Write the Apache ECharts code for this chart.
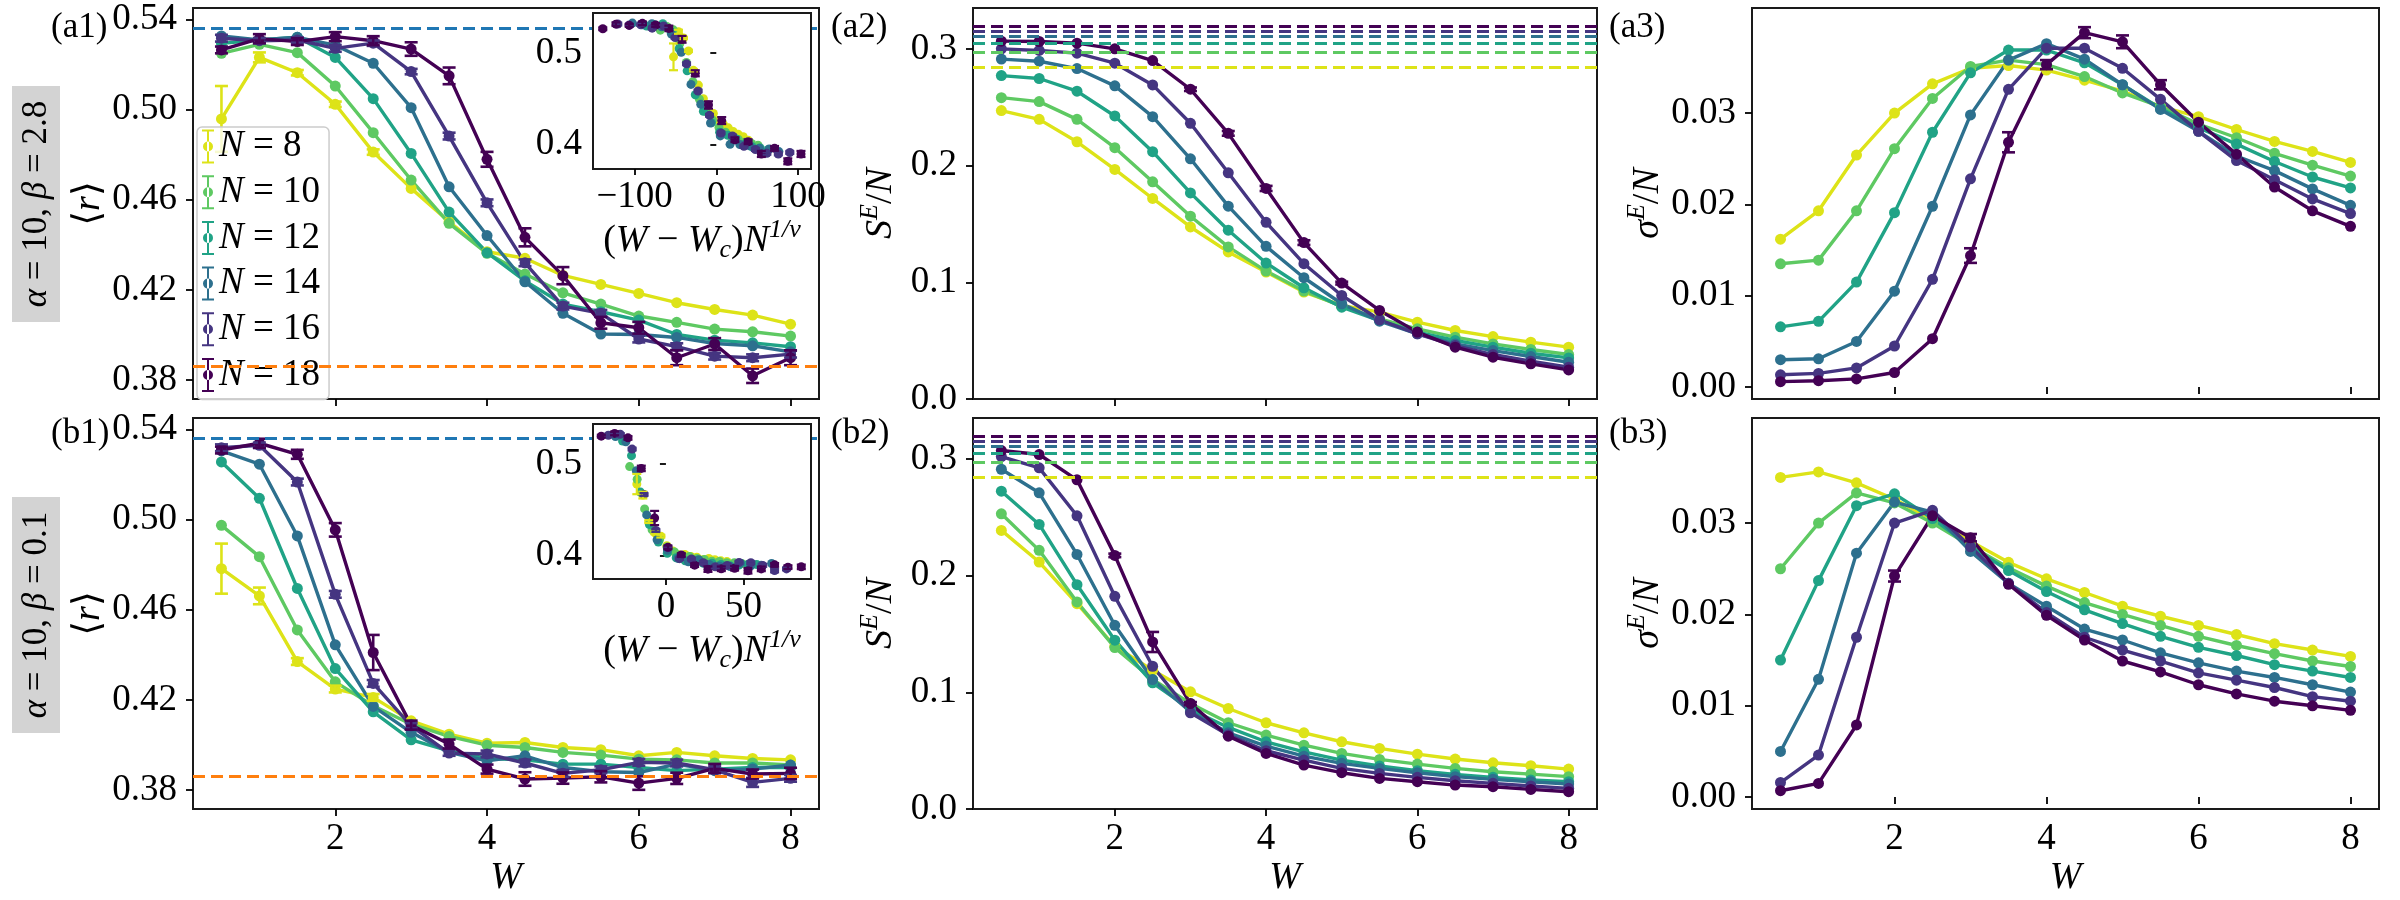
<!DOCTYPE html>
<html>
<head>
<meta charset="utf-8">
<script src="https://cdn.jsdelivr.net/npm/echarts@6/dist/echarts.min.js"></script>
<style>
  html, body { margin: 0; padding: 0; background: #fff; }
  #chart { width: 2400px; height: 900px; }
</style>
</head>
<body>
<div id="chart"></div>
<script>
// disorder strengths and system sizes
const W = [0.5, 1, 1.5, 2, 2.5, 3, 3.5, 4, 4.5, 5, 5.5, 6, 6.5, 7, 7.5, 8]
const Ns = [8, 10, 12, 14, 16, 18]
const colors = ['#dde318', '#5ec962', '#20a386', '#2d708e', '#453581', '#440154']

// <r>, alpha=10 beta=2.8 (rows: N=8..18)
const rA = [
  [0.4958, 0.5231, 0.5163, 0.5023, 0.4811, 0.4650, 0.4502, 0.4369, 0.4340, 0.4264, 0.4224, 0.4184, 0.4143, 0.4113, 0.4088, 0.4048],
  [0.5249, 0.5289, 0.5252, 0.5104, 0.4897, 0.4687, 0.4495, 0.4362, 0.4270, 0.4187, 0.4137, 0.4084, 0.4056, 0.4026, 0.4014, 0.3995],
  [0.5293, 0.5308, 0.5320, 0.5231, 0.5048, 0.4805, 0.4545, 0.4365, 0.4240, 0.4137, 0.4103, 0.4066, 0.4002, 0.3977, 0.3965, 0.3948],
  [0.5326, 0.5308, 0.5320, 0.5285, 0.5205, 0.5008, 0.4657, 0.4441, 0.4236, 0.4096, 0.4004, 0.4002, 0.3989, 0.3962, 0.3952, 0.3925],
  [0.5316, 0.5305, 0.5308, 0.5271, 0.5294, 0.5168, 0.4882, 0.4586, 0.4320, 0.4128, 0.4096, 0.3982, 0.3948, 0.3906, 0.3899, 0.3915],
  [0.5264, 0.5314, 0.5301, 0.5323, 0.5305, 0.5268, 0.5149, 0.4779, 0.4433, 0.4263, 0.4054, 0.4032, 0.3899, 0.3960, 0.3819, 0.3899],
]
const rAErr = [
  [0.0146, 0.0022, 0.0012, 0.0012, 0.0012, 0, 0, 0, 0, 0, 0, 0, 0, 0, 0, 0],
  [0, 0, 0, 0, 0, 0, 0, 0, 0, 0, 0, 0, 0, 0, 0, 0],
  [0, 0, 0, 0, 0, 0, 0, 0, 0, 0, 0, 0, 0, 0, 0, 0],
  [0, 0, 0, 0, 0, 0, 0, 0, 0, 0, 0, 0, 0, 0, 0, 0],
  [0.0015, 0.0012, 0.0012, 0.0015, 0.0012, 0.0012, 0.0015, 0.0015, 0.0015, 0.0015, 0.0015, 0.0015, 0.0015, 0.0015, 0.0015, 0.0015],
  [0.0015, 0.0020, 0.0015, 0.0020, 0.0020, 0.0030, 0.0037, 0.0033, 0.0040, 0.0038, 0.0026, 0.0026, 0.0033, 0.0026, 0.0032, 0.0033],
]

// <r>, alpha=10 beta=0.1
const rB = [
  [0.4782, 0.4661, 0.4370, 0.4248, 0.4211, 0.4107, 0.4048, 0.4008, 0.4011, 0.3989, 0.3979, 0.3952, 0.3967, 0.3952, 0.3940, 0.3934],
  [0.4974, 0.4835, 0.4510, 0.4280, 0.4174, 0.4092, 0.4038, 0.3999, 0.3989, 0.3967, 0.3955, 0.3937, 0.3934, 0.3920, 0.3920, 0.3911],
  [0.5255, 0.5094, 0.4694, 0.4339, 0.4147, 0.4023, 0.3974, 0.3940, 0.3934, 0.3915, 0.3915, 0.3900, 0.3886, 0.3893, 0.3900, 0.3900],
  [0.5304, 0.5245, 0.4927, 0.4444, 0.4171, 0.4056, 0.3967, 0.3930, 0.3952, 0.3900, 0.3881, 0.3878, 0.3915, 0.3886, 0.3893, 0.3911],
  [0.5318, 0.5329, 0.5166, 0.4668, 0.4273, 0.4085, 0.3964, 0.3960, 0.3920, 0.3874, 0.3890, 0.3923, 0.3920, 0.3890, 0.3834, 0.3852],
  [0.5308, 0.5338, 0.5289, 0.4954, 0.4410, 0.4088, 0.4004, 0.3893, 0.3849, 0.3853, 0.3859, 0.3831, 0.3852, 0.3896, 0.3871, 0.3874],
]
const rBErr = [
  [0.0111, 0.0037, 0.0015, 0.0015, 0.0015, 0, 0, 0, 0, 0, 0, 0, 0, 0, 0, 0],
  [0, 0, 0, 0, 0, 0, 0, 0, 0, 0, 0, 0, 0, 0, 0, 0],
  [0, 0, 0, 0, 0, 0, 0, 0, 0, 0, 0, 0, 0, 0, 0, 0],
  [0, 0, 0, 0, 0, 0, 0, 0, 0, 0, 0, 0, 0, 0, 0, 0],
  [0.0015, 0.0012, 0.0015, 0.0015, 0.0015, 0.0012, 0.0012, 0.0015, 0.0015, 0.0015, 0.0015, 0.0015, 0.0015, 0.0015, 0.0020, 0.0015],
  [0.0015, 0.0020, 0.0020, 0.0030, 0.0078, 0.0020, 0.0020, 0.0020, 0.0030, 0.0025, 0.0025, 0.0030, 0.0025, 0.0020, 0.0020, 0.0025],
]

// S^E/N
const sA = [
  [0.2471, 0.2396, 0.2204, 0.1967, 0.1718, 0.1474, 0.1260, 0.1088, 0.0916, 0.0802, 0.0744, 0.0658, 0.0587, 0.0535, 0.0487, 0.0444],
  [0.2582, 0.2548, 0.2396, 0.2153, 0.1861, 0.1566, 0.1303, 0.1096, 0.0925, 0.0793, 0.0687, 0.0601, 0.0530, 0.0472, 0.0424, 0.0381],
  [0.2771, 0.2746, 0.2637, 0.2425, 0.2119, 0.1766, 0.1446, 0.1165, 0.0953, 0.0787, 0.0672, 0.0573, 0.0501, 0.0444, 0.0392, 0.0352],
  [0.2912, 0.2894, 0.2831, 0.2683, 0.2419, 0.2058, 0.1652, 0.1308, 0.1039, 0.0816, 0.0667, 0.0558, 0.0472, 0.0415, 0.0364, 0.0315],
  [0.3000, 0.2986, 0.2963, 0.2877, 0.2691, 0.2362, 0.1938, 0.1514, 0.1159, 0.0887, 0.0679, 0.0558, 0.0458, 0.0381, 0.0324, 0.0272],
  [0.3066, 0.3063, 0.3049, 0.3000, 0.2900, 0.2654, 0.2276, 0.1804, 0.1340, 0.0993, 0.0759, 0.0573, 0.0444, 0.0358, 0.0301, 0.0249],
]
const sAErr18 = [0, 0, 0, 0, 0, 0.0015, 0.0020, 0.0022, 0.0020, 0.0012, 0, 0, 0, 0, 0, 0]
const sB = [
  [0.2387, 0.2116, 0.1759, 0.1394, 0.1189, 0.1004, 0.0861, 0.0739, 0.0653, 0.0576, 0.0519, 0.0470, 0.0428, 0.0396, 0.0371, 0.0342],
  [0.2529, 0.2216, 0.1774, 0.1383, 0.1109, 0.0904, 0.0739, 0.0633, 0.0547, 0.0476, 0.0425, 0.0385, 0.0348, 0.0319, 0.0299, 0.0277],
  [0.2723, 0.2438, 0.1922, 0.1446, 0.1081, 0.0853, 0.0699, 0.0576, 0.0490, 0.0419, 0.0368, 0.0328, 0.0297, 0.0271, 0.0248, 0.0234],
  [0.2911, 0.2709, 0.2181, 0.1574, 0.1109, 0.0833, 0.0653, 0.0539, 0.0453, 0.0391, 0.0348, 0.0311, 0.0277, 0.0254, 0.0234, 0.0214],
  [0.3020, 0.2923, 0.2512, 0.1822, 0.1223, 0.0824, 0.0633, 0.0499, 0.0419, 0.0348, 0.0305, 0.0271, 0.0242, 0.0220, 0.0197, 0.0177],
  [0.3071, 0.3037, 0.2820, 0.2173, 0.1431, 0.0904, 0.0624, 0.0476, 0.0376, 0.0311, 0.0262, 0.0234, 0.0205, 0.0191, 0.0168, 0.0148],
]
const sBErr18 = [0, 0, 0, 0.0015, 0.0086, 0.0012, 0, 0, 0, 0, 0, 0, 0, 0, 0, 0]
// Page values drawn as dashed lines (N=8..18)
const pageS = [0.2840, 0.2967, 0.3050, 0.3110, 0.3155, 0.3192]

// sigma^E/N
const gA = [
  [0.0162, 0.0193, 0.0254, 0.0300, 0.0332, 0.0349, 0.0352, 0.0347, 0.0336, 0.0324, 0.0307, 0.0296, 0.0282, 0.0269, 0.0258, 0.0246],
  [0.0135, 0.0139, 0.0193, 0.0261, 0.0316, 0.0351, 0.0358, 0.0353, 0.0340, 0.0322, 0.0307, 0.0288, 0.0273, 0.0256, 0.0243, 0.0231],
  [0.0066, 0.0072, 0.0115, 0.0191, 0.0279, 0.0344, 0.0369, 0.0369, 0.0355, 0.0331, 0.0305, 0.0284, 0.0266, 0.0247, 0.0230, 0.0218],
  [0.0030, 0.0031, 0.0050, 0.0105, 0.0198, 0.0298, 0.0358, 0.0376, 0.0359, 0.0331, 0.0304, 0.0280, 0.0253, 0.0237, 0.0217, 0.0199],
  [0.00135, 0.0015, 0.0021, 0.0045, 0.0118, 0.0228, 0.0326, 0.0371, 0.0371, 0.0349, 0.0315, 0.0280, 0.0248, 0.0227, 0.0206, 0.0190],
  [0.0006, 0.0007, 0.0009, 0.0016, 0.0053, 0.0144, 0.0268, 0.0353, 0.0388, 0.0378, 0.0331, 0.0290, 0.0255, 0.0219, 0.0193, 0.0176],
]
const gAErr18 = [0, 0, 0, 0, 0, 0.0008, 0.0011, 0.0005, 0.0006, 0.0007, 0.0005, 0, 0, 0, 0, 0]
const gB = [
  [0.0350, 0.0356, 0.0344, 0.0326, 0.0304, 0.0280, 0.0257, 0.0239, 0.0224, 0.0209, 0.0198, 0.0188, 0.0178, 0.0168, 0.0161, 0.0154],
  [0.0250, 0.0300, 0.0333, 0.0322, 0.0300, 0.0275, 0.0251, 0.0231, 0.0213, 0.0200, 0.0188, 0.0176, 0.0166, 0.0157, 0.0149, 0.0143],
  [0.0150, 0.0237, 0.0319, 0.0332, 0.0305, 0.0274, 0.0248, 0.0225, 0.0205, 0.0190, 0.0176, 0.0164, 0.0155, 0.0145, 0.0138, 0.0131],
  [0.0050, 0.0129, 0.0267, 0.0323, 0.0312, 0.0269, 0.0234, 0.0209, 0.0184, 0.0172, 0.0158, 0.0147, 0.0138, 0.0131, 0.0123, 0.0115],
  [0.0016, 0.0046, 0.0175, 0.0300, 0.0314, 0.0274, 0.0234, 0.0202, 0.0175, 0.0161, 0.0149, 0.0136, 0.0128, 0.0120, 0.0110, 0.0105],
  [0.0007, 0.0015, 0.0079, 0.0242, 0.0308, 0.0284, 0.0233, 0.0199, 0.0172, 0.0149, 0.0137, 0.0123, 0.0113, 0.0105, 0.0100, 0.0095],
]
const gBErr18 = [0, 0, 0, 0.0006, 0, 0.0004, 0, 0, 0, 0, 0, 0, 0, 0, 0, 0]

// reference <r> values (GOE and Poisson)
const rGOE = 0.536
const rPoisson = 0.386

// scaling collapse parameters: x = (W - Wc) * N^(1/nu)
const WcA = 4.795, invNuA = 1.203
const WcB = 2.924, invNuB = 0.984

const wTicks = [2, 4, 6, 8]
const rTicks = [0.38, 0.42, 0.46, 0.50, 0.54]
const sTicks = [0, 0.1, 0.2, 0.3]
const gTicks = [0, 0.01, 0.02, 0.03]
const insetYTicks = [0.4, 0.5]
const insetAXTicks = [-100, 0, 100]
const insetBXTicks = [0, 50]

const FONT = "'Liberation Serif', 'DejaVu Serif', serif"
const BLACK = '#000'
const TICK_FS = 37
const NAME_FS = 38

const chart = echarts.init(document.getElementById('chart'), null, { renderer: 'canvas' })

const rich = {
  i: { fontFamily: FONT, fontSize: NAME_FS, fontStyle: 'italic', color: BLACK, verticalAlign: 'middle' },
  n: { fontFamily: FONT, fontSize: NAME_FS, color: BLACK, verticalAlign: 'middle' },
  sup: { fontFamily: FONT, fontSize: 26, fontStyle: 'italic', color: BLACK, verticalAlign: 'middle', padding: [0, 0, 22, 0] },
  sub: { fontFamily: FONT, fontSize: 26, fontStyle: 'italic', color: BLACK, verticalAlign: 'middle', padding: [18, 0, 0, 0] },
}

const fmt = (dec) => (v) => (v < 0 ? '\u2212' : '') + Math.abs(v).toFixed(dec)

const gridBoxes = [
  { left: 193, top: 8, width: 626, height: 391 },
  { left: 973, top: 8, width: 624, height: 391 },
  { left: 1752, top: 8, width: 627, height: 391 },
  { left: 193, top: 418, width: 626, height: 391 },
  { left: 973, top: 418, width: 624, height: 391 },
  { left: 1752, top: 418, width: 627, height: 391 },
]
const grid = gridBoxes.map((g) => ({
  ...g, show: true, borderColor: '#1a1a1a', borderWidth: 2, backgroundColor: 'transparent',
}))
grid.push({ left: 593, top: 13, width: 218, height: 156, show: true, z: 10, borderColor: '#1a1a1a', borderWidth: 2, backgroundColor: '#fff' })
grid.push({ left: 593, top: 424, width: 218, height: 155, show: true, z: 10, borderColor: '#1a1a1a', borderWidth: 2, backgroundColor: '#fff' })

function valueAxis(opts) {
  return {
    type: 'value',
    gridIndex: opts.grid,
    min: opts.min,
    max: opts.max,
    z: opts.z || 0,
    axisLine: { show: false },
    splitLine: { show: false },
    axisTick: { show: true, inside: false, length: opts.tickLen || 7, customValues: opts.ticks, lineStyle: { color: BLACK, width: 1.8 } },
    axisLabel: {
      show: opts.labels !== false,
      customValues: opts.ticks,
      formatter: fmt(opts.dec),
      fontFamily: FONT,
      fontSize: opts.fontSize || TICK_FS,
      color: BLACK,
      margin: opts.margin || 12,
    },
    name: opts.name || '',
    nameLocation: 'middle',
    nameGap: opts.nameGap || 40,
    nameRotate: opts.nameRotate,
    nameTextStyle: { fontFamily: FONT, fontSize: NAME_FS, color: BLACK, rich },
  }
}

const xAxis = []
const yAxis = []
const yCols = [
  { min: 0.3716, max: 0.545, ticks: rTicks, dec: 2, name: '\u27E8{i|r}\u27E9', nameGap: 84 },
  { min: 0, max: 0.335, ticks: sTicks, dec: 1, name: '{i|S}{sup|E}{n|/}{i|N}', nameGap: 68 },
  { min: -0.0013, max: 0.0415, ticks: gTicks, dec: 2, name: '{i|\u03C3}{sup|E}{n|/}{i|N}', nameGap: 80 },
]
for (let g = 0; g < 6; g++) {
  const bottom = g >= 3
  xAxis.push(valueAxis({
    grid: g, min: 0.125, max: 8.375, ticks: wTicks, dec: 0, labels: bottom,
    name: bottom ? '{i|W}' : '', nameGap: 46,
  }))
  const c = yCols[g % 3]
  yAxis.push(valueAxis({
    grid: g, min: c.min, max: c.max, ticks: c.ticks, dec: c.dec, margin: 16,
    name: c.name, nameGap: c.nameGap, nameRotate: 90,
  }))
}
// insets
const insetName = '({i|W} \u2212 {i|W}{sub|c}){i|N}{sup|1/\u03BD}'
xAxis.push(valueAxis({ grid: 6, min: -151, max: 116, ticks: insetAXTicks, dec: 0, z: 11, tickLen: 6, margin: 10, name: insetName, nameGap: 48 }))
yAxis.push(valueAxis({ grid: 6, min: 0.3735, max: 0.5436, ticks: insetYTicks, dec: 1, z: 11, tickLen: 6, margin: 11 }))
xAxis.push(valueAxis({ grid: 7, min: -47, max: 93.5, ticks: insetBXTicks, dec: 0, z: 11, tickLen: 6, margin: 10, name: insetName, nameGap: 48 }))
yAxis.push(valueAxis({ grid: 7, min: 0.3741, max: 0.5441, ticks: insetYTicks, dec: 1, z: 11, tickLen: 6, margin: 11 }))

function errSeries(axis, pts, color, cap, lw, z) {
  return {
    type: 'custom',
    name: 'err',
    xAxisIndex: axis,
    yAxisIndex: axis,
    z: z,
    silent: true,
    clip: true,
    renderItem: (params, api) => {
      const x = api.value(0), y = api.value(1), e = api.value(2)
      const top = api.coord([x, y + e])
      const bot = api.coord([x, y - e])
      const style = { stroke: color, lineWidth: lw }
      return {
        type: 'group',
        children: [
          { type: 'line', shape: { x1: top[0], y1: top[1], x2: bot[0], y2: bot[1] }, style },
          { type: 'line', shape: { x1: top[0] - cap, y1: top[1], x2: top[0] + cap, y2: top[1] }, style },
          { type: 'line', shape: { x1: bot[0] - cap, y1: bot[1], x2: bot[0] + cap, y2: bot[1] }, style },
        ],
      }
    },
    encode: { x: 0, y: 1 },
    data: pts.filter((p) => p[2] > 0),
  }
}

const series = []
const panels = [
  { axis: 0, vals: rA, errs: rAErr },
  { axis: 1, vals: sA, errs: { 5: sAErr18 }, page: true },
  { axis: 2, vals: gA, errs: { 5: gAErr18 } },
  { axis: 3, vals: rB, errs: rBErr },
  { axis: 4, vals: sB, errs: { 5: sBErr18 }, page: true },
  { axis: 5, vals: gB, errs: { 5: gBErr18 } },
]
const dashed = [12, 6]

panels.forEach((p) => {
  p.vals.forEach((row, k) => {
    const s = {
      type: 'line',
      name: 'N = ' + Ns[k],
      xAxisIndex: p.axis,
      yAxisIndex: p.axis,
      data: W.map((w, i) => [w, row[i]]),
      symbol: 'circle',
      symbolSize: 11,
      showSymbol: true,
      z: 2,
      lineStyle: { color: colors[k], width: 3.4 },
      itemStyle: { color: colors[k] },
      emphasis: { disabled: true },
    }
    if (p.page) {
      s.markLine = {
        silent: true, symbol: 'none', precision: 5, label: { show: false },
        lineStyle: { color: colors[k], type: dashed, width: 3 },
        data: [{ yAxis: pageS[k] }],
      }
    }
    if (k === 0 && (p.axis === 0 || p.axis === 3)) {
      s.markLine = {
        silent: true, symbol: 'none', precision: 5, label: { show: false },
        data: [
          { yAxis: rGOE, lineStyle: { color: '#1f77b4', type: dashed, width: 3 } },
          { yAxis: rPoisson, lineStyle: { color: '#ff7f0e', type: dashed, width: 3 } },
        ],
      }
    }
    series.push(s)
    const e = p.errs[k]
    if (e) {
      series.push(errSeries(p.axis, W.map((w, i) => [w, row[i], e[i]]), colors[k], 6.5, 2.6, 3))
    }
  })
})

// scaling-collapse insets
const insets = [
  { axis: 6, vals: rA, errs: rAErr, Wc: WcA, inv: invNuA },
  { axis: 7, vals: rB, errs: rBErr, Wc: WcB, inv: invNuB },
]
insets.forEach((p) => {
  p.vals.forEach((row, k) => {
    const scale = Math.pow(Ns[k], p.inv)
    const xs = W.map((w) => (w - p.Wc) * scale)
    series.push({
      type: 'scatter',
      name: 'inset',
      xAxisIndex: p.axis,
      yAxisIndex: p.axis,
      z: 12,
      symbol: 'circle',
      symbolSize: 9,
      itemStyle: { color: colors[k], opacity: 1 },
      emphasis: { disabled: true },
      data: xs.map((x, i) => [x, row[i]]),
    })
    series.push(errSeries(p.axis, xs.map((x, i) => [x, row[i], p.errs[k][i]]), colors[k], 4.5, 2.2, 13))
  })
})

const legendIcon = 'path://M0,0h12v2h-12z M5,0h2v34h-2z M0,32h12v2h-12z M1,17a5,5 0 1,0 10,0a5,5 0 1,0 -10,0z'

const panelLabel = (text, x, y) => ({
  type: 'text', x, y,
  style: { text, fontFamily: FONT, fontSize: 35, fill: BLACK, verticalAlign: 'middle' },
})
const sideBox = (y, h, text) => [
  { type: 'rect', shape: { x: 12, y, width: 48, height: h }, style: { fill: '#d3d3d3' } },
  {
    type: 'text', x: 37, y: y + h / 2, rotation: Math.PI / 2,
    style: {
      text, align: 'center', verticalAlign: 'middle', fill: BLACK, fontFamily: FONT, fontSize: 35,
      rich: {
        g: { fontFamily: FONT, fontSize: 35, fontStyle: 'italic', fill: BLACK },
        n: { fontFamily: FONT, fontSize: 35, fill: BLACK },
      },
    },
  },
]

const option = {
  animation: false,
  backgroundColor: '#fff',
  grid,
  xAxis,
  yAxis,
  series,
  legend: {
    left: 197,
    top: 127,
    orient: 'vertical',
    selectedMode: false,
    data: Ns.map((n) => ({ name: 'N = ' + n, icon: legendIcon })),
    itemWidth: 12,
    itemHeight: 34,
    itemGap: 8.7,
    padding: [1, 9, 6, 5],
    backgroundColor: 'rgba(255,255,255,0.8)',
    borderColor: '#cccccc',
    borderWidth: 1.5,
    borderRadius: 5,
    z: 5,
    formatter: (name) => '{i|N}{n| = ' + name.split('= ')[1] + '}',
    textStyle: {
      fontFamily: FONT, fontSize: 37, color: BLACK, lineHeight: 34,
      rich: {
        i: { fontFamily: FONT, fontSize: 37, fontStyle: 'italic', color: BLACK, lineHeight: 34 },
        n: { fontFamily: FONT, fontSize: 37, color: BLACK, lineHeight: 34 },
      },
    },
  },
  graphic: [
    panelLabel('(a1)', 51, 28),
    panelLabel('(a2)', 831, 28),
    panelLabel('(a3)', 1609, 28),
    panelLabel('(b1)', 51, 434),
    panelLabel('(b2)', 831, 434),
    panelLabel('(b3)', 1609, 434),
    ...sideBox(86, 236, '{g|\u03B1}{n| = 10, }{g|\u03B2}{n| = 2.8}'),
    ...sideBox(497, 236, '{g|\u03B1}{n| = 10, }{g|\u03B2}{n| = 0.1}'),
  ],
}

chart.setOption(option)
window.addEventListener('resize', () => chart.resize())
</script>
</body>
</html>
